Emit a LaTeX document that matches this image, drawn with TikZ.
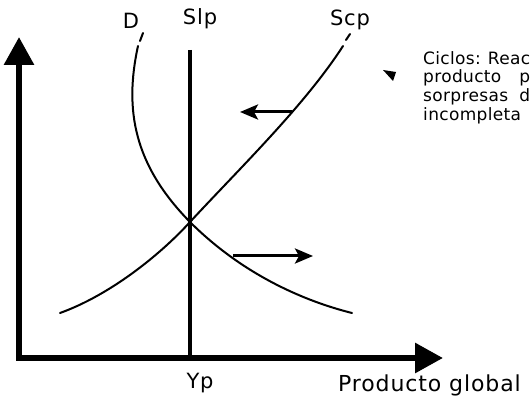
\documentclass[tikz,border=0pt]{standalone}
\usepackage{fontspec}
\setmainfont{DejaVu Sans}
\usetikzlibrary{arrows.meta}
\begin{document}
\begin{tikzpicture}[x=1pt,y=-1pt,
  axisline/.style={line width=6pt,-{Triangle[length=28pt,width=29pt]}},
  curveline/.style={line width=2pt,line cap=round},
  shiftarrow/.style={line width=3pt,-{Stealth[length=18pt,width=15pt,inset=4pt]}},
  lbl/.style={font=\fontsize{21}{21}\selectfont\addfontfeatures{LetterSpace=4},inner sep=0pt},
  side/.style={font=\fontsize{17}{17}\selectfont\addfontfeatures{LetterSpace=2},inner sep=0pt,anchor=west}]
\useasboundingbox (0,0) rectangle (532,411);
% axes
\coordinate (origin) at (19,358);
\coordinate (ytip) at (19,37);
\coordinate (xtip) at (443,358);
\draw[axisline] ([yshift=3pt]origin) -- (ytip);
\draw[axisline] ([xshift=-3pt]origin) -- (xtip);
% long-run supply
\coordinate (slptop) at (190,50);
\coordinate (slpbot) at (190,358);
\draw[line width=4pt] (slptop) -- (slpbot);
% demand
\coordinate (dtop) at (138,46);
\coordinate (eq) at (190,222);
\coordinate (dbot) at (352,313);
\draw[curveline] (dtop) .. controls (124,110) and (134,165) .. (eq)
  .. controls (240,272) and (300,300) .. (dbot);
\draw[curveline] (140,41) -- (143,33);
% short-run supply
\coordinate (sbot) at (60,313);
\coordinate (stop) at (343,46);
\draw[curveline] (sbot) .. controls (110,295) and (160,255) .. (eq)
  .. controls (240,168) and (305,105) .. (stop);
\draw[curveline] (346,40) -- (350,34);
% shift arrows
\coordinate (la0) at (292,112);
\coordinate (la1) at (240,112);
\coordinate (ra0) at (233,256);
\coordinate (ra1) at (313,256);
\draw[shiftarrow] (la0) -- (la1);
\draw[shiftarrow] (ra0) -- (ra1);
% labels
\node[lbl] (lD) at (131,21) {D};
\node[lbl] (lSlp) at (200,19) {Slp};
\node[lbl] (lScp) at (350,20) {Scp};
\node[lbl] (lYp) at (200,383) {Yp};
\node[lbl,anchor=west,font=\fontsize{22}{22}\selectfont\addfontfeatures{LetterSpace=4}] (lPG) at (338,385) {Producto global};
% marker
\fill (383,70) -- (396,72) -- (393,81) -- cycle;
% side text
\node[side] (t1) at (423,58) {\makebox[107pt][s]{Ciclos: Reac}};
\node[side] (t2) at (423,77.5) {\makebox[107pt][s]{producto \ p}};
\node[side] (t3) at (423,97) {\makebox[107pt][s]{sorpresas \ d}};
\node[side] (t4) at (423,116) {incompleta};
\end{tikzpicture}
\end{document}
